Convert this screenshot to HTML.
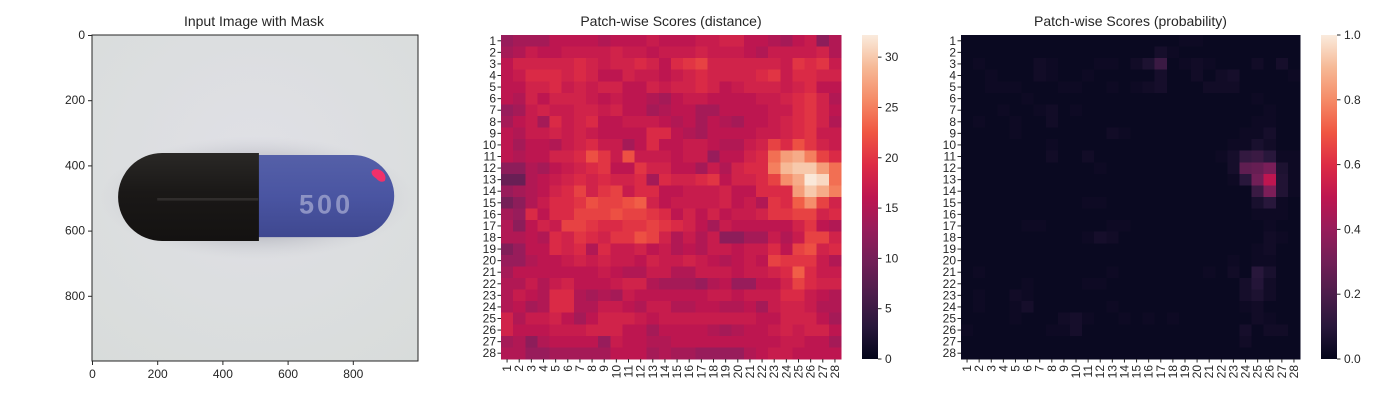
<!DOCTYPE html>
<html><head><meta charset="utf-8">
<style>
html,body{margin:0;padding:0;background:#fff;}
svg{display:block;font-family:"Liberation Sans",Arial,sans-serif;}
</style></head>
<body>
<svg id="fig" width="1400" height="400" viewBox="0 0 1400 400" xmlns="http://www.w3.org/2000/svg">
  <rect width="1400" height="400" fill="#fff"/>
  <defs>
    <radialGradient id="bg" cx="0.5" cy="0.4" r="0.8">
      <stop offset="0" stop-color="#e0e0e6"/>
      <stop offset="1" stop-color="#d8dcda"/>
    </radialGradient>
    <radialGradient id="shadow" cx="0.5" cy="0.5" r="0.5">
      <stop offset="0.6" stop-color="#a0a2ac" stop-opacity="0.55"/>
      <stop offset="1" stop-color="#c8cad0" stop-opacity="0"/>
    </radialGradient>
    <linearGradient id="blk" x1="0" y1="0" x2="0" y2="1">
      <stop offset="0" stop-color="#2a2826"/>
      <stop offset="0.45" stop-color="#1a1817"/>
      <stop offset="1" stop-color="#141211"/>
    </linearGradient>
    <linearGradient id="blu" x1="0" y1="0" x2="0" y2="1">
      <stop offset="0" stop-color="#5560a8"/>
      <stop offset="0.5" stop-color="#4a55a2"/>
      <stop offset="1" stop-color="#3f4890"/>
    </linearGradient>
    <linearGradient id="cbar" x1="0" y1="1" x2="0" y2="0">
      <stop offset="0" stop-color="#03051a"/>
      <stop offset="0.1" stop-color="#28173b"/>
      <stop offset="0.2" stop-color="#4c1d4b"/>
      <stop offset="0.3" stop-color="#711f57"/>
      <stop offset="0.4" stop-color="#971c5b"/>
      <stop offset="0.5" stop-color="#be1650"/>
      <stop offset="0.6" stop-color="#dd2c45"/>
      <stop offset="0.7" stop-color="#f05742"/>
      <stop offset="0.8" stop-color="#f58b67"/>
      <stop offset="0.9" stop-color="#f6b996"/>
      <stop offset="1" stop-color="#faebdd"/>
    </linearGradient>
  </defs>
  <g id="p1"></g>
  <g id="p2"></g>
  <g id="p3"></g>
</svg>
<script>
const distance = [
[13,14,14,14,16,16,16,16,15,16,16,16,17,16,16,16,17,17,18,18,16,16,15,14,16,17,12,15],
[14,15,17,16,16,17,17,17,17,18,17,17,16,17,17,17,18,17,17,17,16,15,17,17,17,17,18,15],
[16,18,18,18,18,18,19,18,17,18,18,19,18,16,19,20,21,18,18,18,18,18,18,17,20,19,20,17],
[16,17,19,19,19,18,19,18,16,16,18,17,17,16,17,18,19,18,18,18,18,19,20,17,19,19,18,18],
[16,16,18,18,19,17,18,17,18,18,16,16,18,17,18,18,19,18,16,17,18,18,18,17,18,19,16,16],
[16,15,18,16,18,18,18,17,16,17,16,16,15,14,16,17,17,16,16,16,16,17,17,18,19,20,18,15],
[13,14,17,18,17,17,18,18,17,18,16,16,14,15,16,16,14,14,16,16,16,16,17,17,19,20,18,16],
[14,16,17,14,19,17,18,19,16,16,17,17,17,16,15,16,14,16,15,14,16,16,17,18,19,20,18,15],
[16,15,17,17,18,17,18,17,16,16,16,16,19,19,16,15,14,16,16,16,16,17,17,18,19,20,17,17],
[16,14,16,16,15,17,18,19,17,17,14,16,19,16,16,17,17,16,15,15,17,18,21,19,22,20,18,17],
[16,15,16,16,18,18,19,22,20,17,22,17,17,17,16,17,17,13,16,16,18,19,24,27,28,25,21,19],
[12,12,15,14,16,17,18,19,20,16,16,20,18,18,16,16,14,17,15,18,19,19,25,29,30,30,27,24],
[9,9,15,16,17,18,19,18,19,18,18,19,14,19,18,18,19,20,16,18,18,19,21,26,28,32,31,24],
[13,14,15,16,18,19,21,18,20,21,17,19,19,16,16,17,17,17,18,16,16,19,19,19,27,30,28,25],
[10,12,15,17,19,19,20,22,21,21,22,23,18,16,17,17,17,17,18,16,17,15,20,19,23,26,21,18],
[14,13,19,16,19,19,21,21,21,22,21,21,20,19,16,18,16,18,16,17,17,18,20,20,21,21,18,19],
[15,12,16,18,17,21,21,20,19,19,20,20,21,20,19,18,16,14,17,16,16,16,16,16,18,20,16,15],
[15,15,16,15,19,18,20,19,18,20,20,22,21,18,15,17,15,17,12,12,14,14,17,15,17,21,21,18],
[11,13,16,16,19,18,19,15,19,17,17,18,16,17,15,16,15,17,17,16,17,17,19,16,21,22,18,19],
[13,13,15,16,16,17,18,17,18,17,17,16,18,17,17,18,17,16,15,16,17,16,21,20,20,20,17,15],
[14,16,16,16,16,16,16,16,17,16,15,15,17,17,15,15,17,17,17,16,17,17,18,19,23,19,17,17],
[15,15,17,15,17,18,16,16,16,17,18,18,15,14,14,14,13,15,16,13,13,16,16,18,21,19,18,18],
[15,17,16,15,19,19,15,14,15,14,17,16,16,16,16,16,16,17,17,16,17,17,17,19,19,17,16,15],
[15,16,14,15,19,19,15,15,17,17,16,15,17,17,15,15,16,16,15,15,16,14,17,18,18,17,15,15],
[18,15,17,17,18,16,14,16,18,18,18,17,16,17,17,17,17,17,17,17,17,16,16,18,18,18,16,14],
[18,16,16,16,17,17,17,18,18,18,16,16,14,16,16,16,16,15,14,15,16,16,17,18,17,18,18,16],
[14,15,12,15,16,16,16,16,13,17,16,16,15,15,16,16,16,16,16,16,16,16,16,17,17,16,16,14],
[15,15,13,13,14,14,14,14,14,16,16,16,14,15,14,14,13,13,13,13,15,16,17,17,16,16,16,16]
];
const probability = [
[.02,.02,.02,.02,.02,.02,.02,.02,.02,.02,.02,.02,.02,.02,.02,.02,.02,.02,.03,.03,.02,.02,.02,.02,.02,.02,.02,.02],
[.02,.02,.02,.02,.02,.02,.02,.02,.02,.02,.02,.02,.02,.02,.02,.02,.05,.03,.02,.02,.02,.02,.02,.02,.02,.02,.02,.02],
[.02,.03,.02,.02,.02,.02,.04,.03,.02,.02,.02,.03,.03,.02,.04,.07,.15,.02,.03,.04,.03,.02,.02,.02,.04,.02,.05,.02],
[.02,.02,.03,.02,.02,.02,.04,.03,.02,.02,.03,.02,.02,.02,.02,.02,.05,.02,.02,.04,.02,.04,.05,.02,.02,.02,.02,.03],
[.02,.02,.03,.03,.03,.02,.02,.02,.03,.03,.02,.02,.03,.02,.03,.04,.05,.02,.02,.02,.04,.04,.04,.02,.02,.02,.02,.02],
[.02,.02,.02,.02,.02,.03,.02,.02,.02,.02,.02,.02,.02,.02,.02,.02,.02,.02,.02,.02,.02,.02,.02,.02,.03,.02,.02,.02],
[.02,.02,.02,.03,.02,.02,.03,.04,.02,.03,.02,.02,.02,.02,.02,.02,.02,.02,.02,.02,.02,.02,.02,.02,.02,.03,.02,.02],
[.02,.03,.02,.02,.03,.02,.02,.04,.02,.02,.02,.02,.02,.02,.02,.02,.02,.02,.02,.02,.02,.02,.02,.02,.03,.03,.02,.02],
[.02,.02,.02,.02,.03,.02,.02,.02,.02,.02,.02,.02,.04,.03,.02,.02,.02,.02,.02,.02,.02,.02,.02,.03,.03,.05,.02,.02],
[.02,.02,.02,.02,.02,.02,.02,.03,.02,.02,.02,.02,.02,.02,.02,.02,.02,.02,.02,.02,.02,.02,.03,.03,.06,.04,.02,.02],
[.02,.02,.02,.02,.02,.02,.02,.04,.02,.02,.04,.02,.02,.02,.02,.02,.02,.02,.02,.02,.02,.03,.05,.13,.15,.10,.03,.03],
[.02,.02,.02,.02,.02,.02,.02,.02,.02,.02,.02,.03,.02,.02,.02,.02,.02,.02,.02,.02,.02,.02,.05,.25,.27,.32,.07,.03],
[.02,.02,.02,.02,.02,.02,.02,.02,.02,.02,.02,.02,.02,.02,.02,.02,.02,.02,.02,.02,.02,.02,.03,.10,.30,.50,.08,.03],
[.02,.02,.02,.02,.02,.02,.02,.02,.02,.02,.02,.02,.02,.02,.02,.02,.02,.02,.02,.02,.02,.02,.02,.02,.15,.33,.08,.03],
[.02,.02,.02,.02,.02,.02,.02,.02,.02,.02,.03,.03,.02,.02,.02,.02,.02,.02,.02,.02,.02,.02,.02,.02,.06,.10,.03,.02],
[.02,.02,.02,.02,.02,.02,.02,.02,.02,.02,.02,.02,.02,.02,.02,.02,.02,.02,.02,.02,.02,.02,.02,.02,.03,.03,.03,.02],
[.02,.02,.02,.02,.02,.03,.03,.02,.02,.02,.02,.02,.03,.03,.02,.02,.02,.02,.02,.02,.02,.02,.02,.02,.02,.03,.02,.02],
[.02,.02,.02,.02,.02,.02,.02,.02,.02,.02,.03,.05,.04,.02,.02,.02,.02,.02,.02,.02,.02,.02,.02,.02,.02,.04,.03,.02],
[.02,.02,.02,.02,.02,.02,.02,.02,.02,.02,.02,.02,.02,.02,.02,.02,.02,.02,.02,.02,.02,.02,.02,.02,.03,.04,.02,.02],
[.02,.02,.02,.02,.02,.02,.02,.02,.02,.02,.02,.02,.02,.02,.02,.02,.02,.02,.02,.02,.02,.02,.03,.02,.03,.03,.02,.02],
[.02,.03,.02,.02,.02,.02,.02,.02,.02,.02,.02,.02,.03,.02,.02,.02,.02,.02,.02,.02,.03,.02,.04,.02,.10,.06,.02,.02],
[.02,.02,.02,.02,.02,.03,.02,.02,.02,.02,.03,.03,.02,.02,.02,.02,.02,.02,.02,.02,.02,.02,.02,.05,.09,.04,.02,.02],
[.02,.03,.02,.02,.04,.03,.02,.02,.02,.02,.02,.02,.02,.02,.02,.02,.02,.02,.02,.02,.02,.02,.02,.05,.07,.04,.02,.02],
[.02,.03,.02,.02,.03,.05,.02,.02,.02,.02,.02,.02,.03,.02,.02,.02,.02,.02,.02,.02,.02,.02,.02,.03,.04,.02,.02,.02],
[.02,.02,.02,.02,.03,.02,.02,.02,.04,.05,.03,.02,.02,.03,.02,.03,.02,.03,.02,.02,.02,.02,.02,.02,.04,.03,.02,.02],
[.03,.02,.02,.02,.02,.02,.02,.03,.03,.05,.02,.02,.02,.02,.02,.02,.02,.02,.02,.02,.02,.02,.02,.05,.02,.04,.04,.02],
[.02,.02,.02,.02,.02,.02,.02,.02,.02,.02,.02,.02,.02,.02,.02,.02,.02,.02,.02,.02,.02,.02,.02,.04,.02,.02,.02,.02],
[.02,.02,.02,.02,.02,.02,.02,.02,.02,.02,.02,.02,.02,.02,.02,.02,.02,.02,.02,.02,.02,.02,.02,.02,.02,.02,.02,.02]
];
const imgTicks = [0,200,400,600,800];
const distTicks = [0,5,10,15,20,25,30];
const probTicks = [0,0.2,0.4,0.6,0.8,1.0];
const probTickLabels = ["0.0","0.2","0.4","0.6","0.8","1.0"];
const rowLabels = Array.from({length:28},(_,i)=>String(i+1));

const NS="http://www.w3.org/2000/svg";
function mk(tag,attrs,parent,text){const e=document.createElementNS(NS,tag);for(const k in attrs)e.setAttribute(k,attrs[k]);if(text!==undefined)e.textContent=text;parent.appendChild(e);return e;}
const stops=[[3,5,26],[40,23,59],[76,29,75],[113,31,87],[151,28,91],[190,22,80],[221,44,69],[240,87,66],[245,139,103],[246,185,150],[250,235,221]];
function rocket(t){t=Math.max(0,Math.min(1,t));const p=t*10,i=Math.min(9,Math.floor(p)),f=p-i;const a=stops[i],b=stops[i+1];return `rgb(${Math.round(a[0]+(b[0]-a[0])*f)},${Math.round(a[1]+(b[1]-a[1])*f)},${Math.round(a[2]+(b[2]-a[2])*f)})`;}

// ---- Panel 1: image ----
(function(){
  const g=document.getElementById('p1');
  const X0=92,Y0=35,S=0.326;
  const x=v=>X0+v*S, y=v=>Y0+v*S;
  const t=mk('text',{x:254,y:26,'text-anchor':'middle','font-size':14,fill:'#262626'},g,'Input Image with Mask');
  
  const img=mk('g',{},g);
  
  mk('rect',{x:x(0),y:y(0),width:1000*S,height:1000*S,fill:'url(#bg)'},img);
  mk('ellipse',{cx:x(505),cy:y(500),rx:480*S,ry:190*S,fill:'url(#shadow)'},img);
  const br=126*S;
  mk('path',{d:`M${x(500)},${y(368)} L${x(927)-br},${y(368)} A${br},${br} 0 0 1 ${x(927)-br},${y(620)} L${x(500)},${y(620)} Z`,fill:'url(#blu)'},img);
  const kr=135*S;
  mk('path',{d:`M${x(512)},${y(362)} L${x(80)+kr},${y(362)} A${kr},${kr} 0 0 0 ${x(80)+kr},${y(632)} L${x(512)},${y(632)} Z`,fill:'url(#blk)'},img);
  mk('rect',{x:x(200),y:y(500),width:310*S,height:8*S,fill:'#3a3836',opacity:0.7},img);
  const lab=mk('text',{x:x(718),y:y(548),'text-anchor':'middle','font-size':27,'font-weight':'bold',fill:'#8d93c4','letter-spacing':'3'},img,'500');
  
  const m=mk('path',{d:`M${x(858)},${y(418)} Q${x(870)},${y(405)} ${x(890)},${y(418)} Q${x(905)},${y(432)} ${x(898)},${y(448)} Q${x(885)},${y(455)} ${x(872)},${y(440)} Q${x(855)},${y(430)} ${x(858)},${y(418)} Z`,fill:'#f0306a'},img);
  
  const fr=mk('rect',{x:x(0),y:y(0),width:1000*S,height:1000*S,fill:'none',stroke:'#262626','stroke-width':1},g);
  
  imgTicks.forEach(v=>{
    mk('line',{x1:X0,x2:X0-4,y1:y(v)+0.5,y2:y(v)+0.5,stroke:'#262626'},g);
    const a=mk('text',{x:X0-7,y:y(v)+4,'text-anchor':'end','font-size':12,fill:'#262626'},g,String(v));
    
    mk('line',{x1:x(v)+0.5,x2:x(v)+0.5,y1:y(1000),y2:y(1000)+4,stroke:'#262626'},g);
    const b=mk('text',{x:x(v)+0.5,y:y(1000)+17,'text-anchor':'middle','font-size':12,fill:'#262626'},g,String(v));
    
  });
})();

// ---- Heatmaps ----
function heatmap(gid,data,vmax,title,ticks,tickLabels,X0,X1,CB,prefix){
  const g=document.getElementById(gid);
  const Y0=35,Y1=359,n=28,cw=(X1-X0)/n,ch=(Y1-Y0)/n;
  const xs=j=>X0+j*cw, ys=i=>Y0+i*ch;
  const t=mk('text',{x:(X0+X1)/2,y:26,'text-anchor':'middle','font-size':14,fill:'#262626'},g,title);
  
  const cells=mk('g',{'shape-rendering':'crispEdges'},g);
  
  data.forEach((row,i)=>row.forEach((v,j)=>{
    const r=mk('rect',{x:xs(j),y:ys(i),width:cw+0.6,height:ch+0.6,fill:rocket(v/vmax)},cells);
    
    
  }));
  rowLabels.forEach((lb,i)=>{
    const cy=ys(i)+ch/2;
    mk('line',{x1:X0,x2:X0-3.5,y1:cy,y2:cy,stroke:'#262626'},g);
    const a=mk('text',{x:X0-5,y:cy+4,'text-anchor':'end','font-size':12,fill:'#262626'},g,lb);
    
    const cx=xs(i)+cw/2;
    mk('line',{x1:cx,x2:cx,y1:Y1,y2:Y1+3.5,stroke:'#262626'},g);
    const b=mk('text',{x:0,y:0,'text-anchor':'end','font-size':12,fill:'#262626',transform:`translate(${cx+4},${Y1+6}) rotate(-90)`},g,lb);
    
  });
  const cb=mk('rect',{x:CB,y:Y0,width:16,height:Y1-Y0,fill:'url(#cbar)'},g);
  
  ticks.forEach((v,k)=>{
    const yy=Y1-(v/vmax)*(Y1-Y0);
    mk('line',{x1:CB+16,x2:CB+19.5,y1:yy,y2:yy,stroke:'#262626'},g);
    const a=mk('text',{x:CB+23,y:yy+4,'font-size':12,fill:'#262626'},g,tickLabels[k]);
    
  });
}
heatmap('p2',distance,32.2,'Patch-wise Scores (distance)',distTicks,distTicks.map(String),501,841,862,'distance');
heatmap('p3',probability,1.0,'Patch-wise Scores (probability)',probTicks,probTickLabels,961,1300,1321,'probability');
</script>
</body></html>
